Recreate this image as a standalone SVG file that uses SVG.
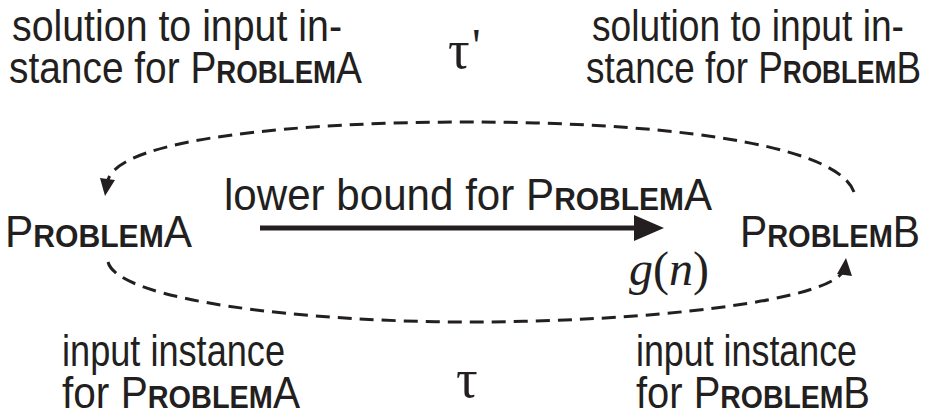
<svg xmlns="http://www.w3.org/2000/svg" width="925" height="417" viewBox="0 0 925 417">
<style>
text{font-family:"Liberation Sans",Arial,sans-serif;font-size:45px;fill:#231f20}
.sc{font-size:32px;font-weight:bold}
.m{font-family:"Liberation Serif","Times New Roman",serif;font-style:italic;font-size:48px}
.g{font-family:"Liberation Serif","Times New Roman",serif;font-size:48px}
.t{font-family:"Liberation Serif","Times New Roman",serif;font-size:54px}
.d{fill:none;stroke:#231f20;stroke-width:3;stroke-dasharray:14 8}
</style>
<g id="solA"><text x="12" y="41" textLength="330" lengthAdjust="spacingAndGlyphs">solution to input in-</text><text x="9" y="83" textLength="353" lengthAdjust="spacingAndGlyphs">stance for P<tspan class="sc">ROBLEM</tspan>A</text></g>
<g id="solB"><text x="592" y="41" textLength="312" lengthAdjust="spacingAndGlyphs">solution to input in-</text><text x="586" y="83" textLength="335" lengthAdjust="spacingAndGlyphs">stance for P<tspan class="sc">ROBLEM</tspan>B</text></g>
<g id="tauP"><text class="t" x="448" y="68">τ</text><text class="g" x="472" y="62">'</text></g>
<g id="probA"><text x="5" y="247" textLength="187" lengthAdjust="spacingAndGlyphs">P<tspan class="sc">ROBLEM</tspan>A</text></g>
<g id="probB"><text x="740" y="247" textLength="180" lengthAdjust="spacingAndGlyphs">P<tspan class="sc">ROBLEM</tspan>B</text></g>
<g id="lb"><text x="224" y="210" textLength="488" lengthAdjust="spacingAndGlyphs">lower bound for P<tspan class="sc">ROBLEM</tspan>A</text></g>
<g id="gn"><text class="m" x="629" y="285">g</text><text class="g" x="653" y="285">(</text><text class="m" x="669" y="285">n</text><text class="g" x="693" y="285">)</text></g>
<g id="inA"><text x="62" y="366" textLength="223" lengthAdjust="spacingAndGlyphs">input instance</text><text x="62" y="408" textLength="238" lengthAdjust="spacingAndGlyphs">for P<tspan class="sc">ROBLEM</tspan>A</text></g>
<g id="inB"><text x="636" y="366" textLength="221" lengthAdjust="spacingAndGlyphs">input instance</text><text x="636" y="408" textLength="234" lengthAdjust="spacingAndGlyphs">for P<tspan class="sc">ROBLEM</tspan>B</text></g>
<g id="tau"><text class="t" x="456" y="397">τ</text></g>
<g id="connectors">
<line x1="260" y1="228" x2="640" y2="228" stroke="#231f20" stroke-width="5"/>
<path d="M634,215 L664,228 L634,241 z" fill="#231f20"/>
<path class="d" d="M854,192 C835,140 640,122 470,122 C300,122 120,138 108,180"/>
<path d="M100,178 L115,180 L105,196 z" fill="#231f20"/>
<path class="d" d="M108,262 C118,300 300,322 470,322 C640,322 830,302 844,270"/>
<path d="M837,274 L852,276 L846,258 z" fill="#231f20"/>
</g>
</svg>
